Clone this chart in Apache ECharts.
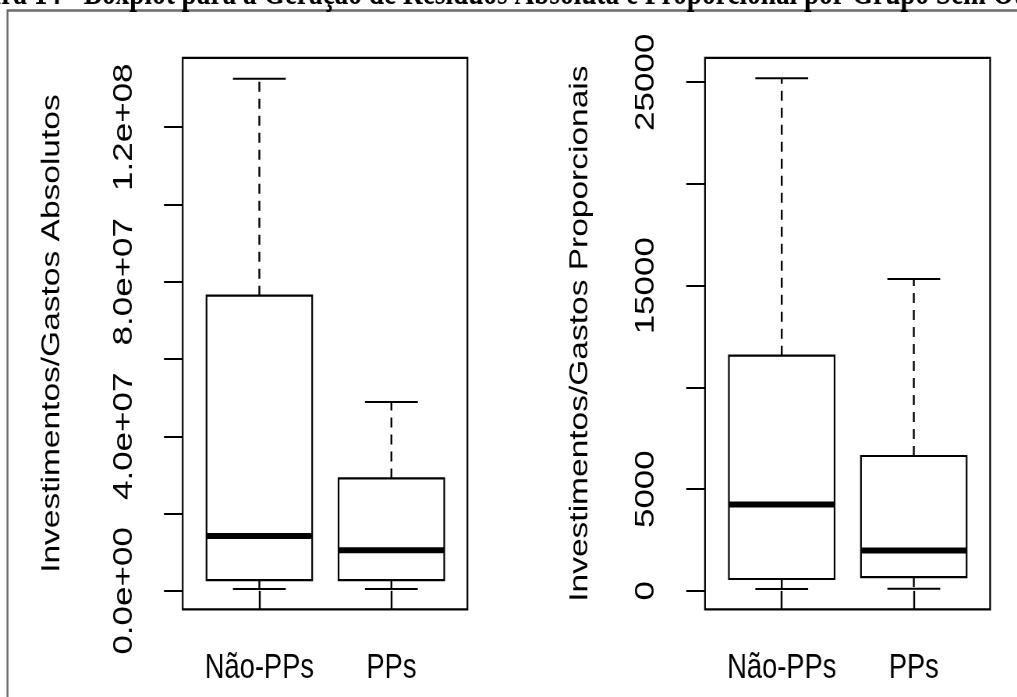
<!DOCTYPE html>
<html>
<head>
<meta charset="utf-8">
<title>Boxplot Investimentos/Gastos</title>
<script src="https://cdn.jsdelivr.net/npm/echarts@6/dist/echarts.min.js"></script>
<style>
  html, body { margin: 0; padding: 0; background: #fff; overflow: hidden; width: 1017px; height: 697px; }
  /* o original é uma figura do R esticada na vertical: desenha mais largo e comprime em x */
  #chart { width: 1304px; height: 697px; transform: scaleX(0.78); transform-origin: 0 0; }
</style>
</head>
<body>
<div id="chart"></div>
<script>
// grupos
var groups = ['Não-PPs', 'PPs']
// [mín, Q1, mediana, Q3, máx] por grupo
var absolutos = [
  [0.5e6, 2.8e6, 1.42e7, 7.64e7, 1.325e8],
  [0.5e6, 2.8e6, 1.05e7, 2.91e7, 4.89e7]
]
var proporcionais = [
  [98, 585, 4250, 11560, 25200],
  [100, 680, 1990, 6630, 15330]
]
// ticks e rótulos dos eixos
var absTicks = [0, 2e7, 4e7, 6e7, 8e7, 1e8, 1.2e8]
var absLabels = [0, 4e7, 8e7, 1.2e8]
var propTicks = [0, 5000, 10000, 15000, 20000, 25000]
var propLabels = [0, 5000, 15000, 25000]

var SX = 0.78
var W = 1017 / SX
function X(v) { return v / SX } // posição na tela -> coordenada antes da compressão

var FONT = '"Liberation Sans", Arial, Helvetica, sans-serif'
var TXT = { color: '#000', fontFamily: FONT, fontSize: 35 }
var NAME_TXT = { color: '#000', fontFamily: FONT, fontSize: 33.5 }

function sci(v) {
  var s = Number(v).toExponential(1)
  return s.replace(/e([+-])(\d)$/, 'e$10$2')
}

// monta [índice, mín, Q1, med, Q3, máx]
function toRows(list) {
  return list.map(function (r, i) { return [i].concat(r) })
}

function renderBox(params, api) {
  var x = api.value(0)
  var lo = api.coord([x, api.value(1)])
  var q1 = api.coord([x, api.value(2)])
  var med = api.coord([x, api.value(3)])
  var q3 = api.coord([x, api.value(4)])
  var hi = api.coord([x, api.value(5)])
  var band = api.size([1, 0])[0]
  var bw = band * 0.8
  var cw = band * 0.4
  var cx = q1[0]
  var line = { stroke: '#000', lineWidth: 2 }
  var dash = { stroke: '#000', lineWidth: 2.4, lineDash: [10, 7] }
  return {
    type: 'group',
    children: [
      { type: 'line', shape: { x1: cx, y1: q3[1], x2: cx, y2: hi[1] }, style: dash },
      { type: 'line', shape: { x1: cx, y1: q1[1], x2: cx, y2: lo[1] }, style: dash },
      { type: 'line', shape: { x1: cx - cw / 2, y1: hi[1], x2: cx + cw / 2, y2: hi[1] }, style: line },
      { type: 'line', shape: { x1: cx - cw / 2, y1: lo[1], x2: cx + cw / 2, y2: lo[1] }, style: line },
      { type: 'rect', shape: { x: cx - bw / 2, y: q3[1], width: bw, height: q1[1] - q3[1] },
        style: { fill: 'none', stroke: '#000', lineWidth: 2.2 } },
      { type: 'line', shape: { x1: cx - bw / 2, y1: med[1], x2: cx + bw / 2, y2: med[1] },
        style: { stroke: '#000', lineWidth: 6 } }
    ]
  }
}

var myChart = echarts.init(document.getElementById('chart'))

var TOP = 57.8
var BOTTOM = 697 - 609.4

function xAxisCat(idx) {
  return {
    gridIndex: idx, type: 'category', data: groups,
    axisLine: { show: false },
    axisTick: { show: true, interval: 0, alignWithLabel: true, length: 19, lineStyle: { color: '#000', width: 2.4 } },
    axisLabel: Object.assign({ interval: 0, margin: 41 }, TXT)
  }
}

var option = {
  backgroundColor: '#fff',
  animation: false,
  graphic: [
    {
      type: 'rect',
      shape: { x: X(7.5), y: 10.5, width: 1500, height: 900 },
      style: { fill: 'none', stroke: '#6b6b6b', lineWidth: 2.4 }
    },
    {
      type: 'text',
      x: X(-52), y: -5,
      style: {
        text: 'Figura 14 - Boxplot para a Geração de Resíduos Absoluta e Proporcional por Grupo Sem Outliers',
        font: 'bold 35px "Liberation Serif", "Times New Roman", serif',
        fill: '#000',
        verticalAlign: 'middle'
      }
    }
  ],
  grid: [
    // molduras
    { left: X(182.7), right: W - X(467.3), top: TOP, bottom: BOTTOM, show: true, borderColor: '#000', borderWidth: 2.2, backgroundColor: 'transparent' },
    { left: X(705), right: W - X(990), top: TOP, bottom: BOTTOM, show: true, borderColor: '#000', borderWidth: 2.2, backgroundColor: 'transparent' },
    // área dos dados
    { left: X(193.3), right: W - X(457.3), top: TOP, bottom: BOTTOM },
    { left: X(715.7), right: W - X(979.7), top: TOP, bottom: BOTTOM }
  ],
  xAxis: [
    { gridIndex: 0, type: 'value', show: false },
    { gridIndex: 1, type: 'value', show: false },
    xAxisCat(2),
    xAxisCat(3)
  ],
  yAxis: [
    {
      gridIndex: 0, type: 'value', min: -4.8e6, max: 1.3795e8,
      name: 'Investimentos/Gastos Absolutos', nameLocation: 'middle', nameRotate: 90, nameGap: 150,
      nameTextStyle: NAME_TXT,
      axisLine: { show: false },
      splitLine: { show: false },
      axisTick: { show: true, length: 24, customValues: absTicks, lineStyle: { color: '#000', width: 2 } },
      axisLabel: Object.assign({ rotate: 90, margin: 57, customValues: absLabels, formatter: sci }, TXT)
    },
    {
      gridIndex: 1, type: 'value', min: -910, max: 26200,
      name: 'Investimentos/Gastos Proporcionais', nameLocation: 'middle', nameRotate: 90, nameGap: 143,
      nameTextStyle: NAME_TXT,
      axisLine: { show: false },
      splitLine: { show: false },
      axisTick: { show: true, length: 24, customValues: propTicks, lineStyle: { color: '#000', width: 2 } },
      axisLabel: Object.assign({ rotate: 90, margin: 58, customValues: propLabels, formatter: function (v) { return String(v) } }, TXT)
    },
    { gridIndex: 2, type: 'value', min: -4.8e6, max: 1.3795e8, show: false },
    { gridIndex: 3, type: 'value', min: -910, max: 26200, show: false }
  ],
  series: [
    {
      type: 'custom', name: 'Absolutos', xAxisIndex: 2, yAxisIndex: 2,
      renderItem: renderBox,
      encode: { x: 0, y: [1, 2, 3, 4, 5] },
      data: toRows(absolutos)
    },
    {
      type: 'custom', name: 'Proporcionais', xAxisIndex: 3, yAxisIndex: 3,
      renderItem: renderBox,
      encode: { x: 0, y: [1, 2, 3, 4, 5] },
      data: toRows(proporcionais)
    }
  ]
}

myChart.setOption(option)
</script>
</body>
</html>
